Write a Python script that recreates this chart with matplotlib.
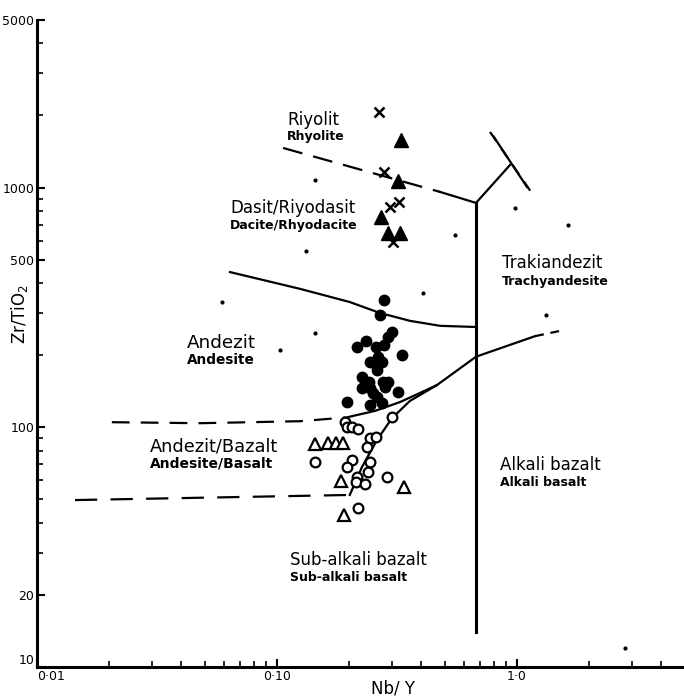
import matplotlib.pyplot as plt
from matplotlib.ticker import FixedLocator, LogLocator, NullFormatter

plt.rcParams['font.family'] = ['DejaVu Sans']

# Samples (Nb/Y, Zr/TiO2)
cross_x = [0.266, 0.279, 0.296, 0.322, 0.304]
cross_y = [2067, 1162, 830, 871, 593]

ftri_x = [0.329, 0.319, 0.271, 0.290, 0.326]
ftri_y = [1580, 1065, 754, 647, 647]

fcirc_x = [0.279, 0.268, 0.301, 0.290, 0.235, 0.215, 0.259, 0.279, 0.332,
           0.264, 0.244, 0.256, 0.274, 0.261, 0.226, 0.242, 0.277, 0.290,
           0.226, 0.244, 0.282, 0.251, 0.319, 0.261, 0.196, 0.244, 0.274]
fcirc_y = [340, 294, 250, 238, 229, 216, 216, 220, 200,
           197, 187, 185, 187, 173, 162, 155, 155, 155,
           146, 146, 147, 139, 140, 134, 128, 124, 126]

ocirc_x = [0.301, 0.192, 0.196, 0.205, 0.218, 0.244, 0.259, 0.237, 0.244,
           0.205, 0.196, 0.239, 0.215, 0.213, 0.233, 0.287, 0.144, 0.218]
ocirc_y = [110, 105, 100, 100, 98.4, 90.2, 91.1, 82.8, 71.6,
           73.1, 68.3, 65.1, 62.0, 59.1, 58.0, 62.0, 71.6, 46.1]

otri_x = [0.144, 0.163, 0.176, 0.188, 0.185, 0.338, 0.190]
otri_y = [85.2, 86.0, 86.0, 86.0, 59.7, 56.4, 43.1]

# small specks on the scanned sheet
speck_x = [0.132, 0.144, 0.144, 0.103, 0.406, 0.552, 0.981, 1.63, 1.32, 0.059, 2.82]
speck_y = [544, 1076, 247, 210, 363, 634, 822, 698, 294, 333, 12]

# field boundaries
rhy_dash_x = [0.106, 0.478]
rhy_dash_y = [1463, 959]
rhy_solid_x = [0.478, 0.675]
rhy_solid_y = [959, 863]

vert_x = [0.675, 0.675]
vert_y = [863, 14]

branch_x = [0.675, 0.935]
branch_y = [863, 1242]
cross_line_x = [0.772, 1.19]
cross_line_y = [1706, 905]
cross_solid_x = [0.80, 1.10]
cross_solid_y = [1630, 1006]

dac_and_x = [0.0637, 0.1247, 0.201, 0.268, 0.358, 0.478, 0.675]
dac_and_y = [444, 378, 333, 300, 278, 265, 262]

and_bas_dash_x = [0.0205, 0.0478, 0.1247, 0.196, 0.207]
and_bas_dash_y = [105, 104, 106, 110, 111.5]
and_bas_x = [0.207, 0.256, 0.326, 0.394, 0.464, 0.675, 1.19]
and_bas_y = [111.5, 117, 127.5, 139, 150, 197, 240]
and_bas_tail_x = [1.19, 1.585]
and_bas_tail_y = [240, 255]

steep_x = [0.201, 0.226, 0.261, 0.301, 0.358, 0.464]
steep_y = [52.2, 68.3, 88.5, 109, 128.8, 150]

low_dash_x = [0.0144, 0.201]
low_dash_y = [49.7, 52.2]

y_ticks = [10, 20, 100, 500, 1000, 5000]
y_labels = ['10', '20', '100', '500', '1000', '5000']
x_ticks = [0.01, 0.1, 1.0]
x_labels = ['0·01', '0·10', '1·0']

fig = plt.figure(figsize=(6.84, 6.99), dpi=100)
ax = fig.add_axes([37 / 684, 32 / 699, 647 / 684, 647 / 699])
ax.set_xscale('log')
ax.set_yscale('log')
ax.set_xlim(0.01, 10 ** (647 / 240 - 2))
ax.set_ylim(10, 5000)

lw = 1.6
ax.plot(rhy_dash_x, rhy_dash_y, color='black', lw=lw, dashes=(9, 5))
ax.plot(rhy_solid_x, rhy_solid_y, color='black', lw=lw)
ax.plot(vert_x, vert_y, color='black', lw=2.2)
ax.plot(branch_x, branch_y, color='black', lw=lw)
ax.plot(cross_line_x, cross_line_y, color='black', lw=lw, dashes=(5, 4))
ax.plot(cross_solid_x, cross_solid_y, color='black', lw=lw)
ax.plot(dac_and_x, dac_and_y, color='black', lw=lw)
ax.plot(and_bas_dash_x, and_bas_dash_y, color='black', lw=lw, dashes=(8, 5))
ax.plot(and_bas_x, and_bas_y, color='black', lw=lw)
ax.plot(and_bas_tail_x, and_bas_tail_y, color='black', lw=lw, dashes=(4, 3))
ax.plot(steep_x, steep_y, color='black', lw=lw)
ax.plot(low_dash_x, low_dash_y, color='black', lw=lw, dashes=(10, 6))

ax.plot(speck_x, speck_y, linestyle='None', marker='o', ms=2, color='black')
ax.plot(cross_x, cross_y, linestyle='None', marker='x', ms=7, mew=1.8, color='black')
ax.plot(ftri_x, ftri_y, linestyle='None', marker='^', ms=10, color='black')
ax.plot(fcirc_x, fcirc_y, linestyle='None', marker='o', ms=7.5, color='black')
ax.plot(ocirc_x, ocirc_y, linestyle='None', marker='o', ms=7, mfc='white', mec='black', mew=1.6)
ax.plot(otri_x, otri_y, linestyle='None', marker='^', ms=9, mfc='white', mec='black', mew=1.6)

# field names
big = 12
small = 9
ax.text(0.110, 1914, 'Riyolit', fontsize=big, va='center')
ax.text(0.110, 1626, 'Rhyolite', fontsize=small, fontweight='bold', va='center')
ax.text(0.0637, 822, 'Dasit/Riyodasit', fontsize=big, va='center')
ax.text(0.0637, 692, 'Dacite/Rhyodacite', fontsize=small, fontweight='bold', va='center')
ax.text(0.0422, 225, 'Andezit', fontsize=13.2, va='center')
ax.text(0.0422, 191, 'Andesite', fontsize=9.8, fontweight='bold', va='center')
ax.text(0.0296, 82.8, 'Andezit/Bazalt', fontsize=12.8, va='center')
ax.text(0.0296, 70.3, 'Andesite/Basalt', fontsize=10, fontweight='bold', va='center')
ax.text(0.866, 485, 'Trakiandezit', fontsize=big, va='center')
ax.text(0.866, 404, 'Trachyandesite', fontsize=small, fontweight='bold', va='center')
ax.text(0.849, 69.6, 'Alkali bazalt', fontsize=big, va='center')
ax.text(0.849, 59.1, 'Alkali basalt', fontsize=small, fontweight='bold', va='center')
ax.text(0.113, 27.9, 'Sub-alkali bazalt', fontsize=big, va='center')
ax.text(0.113, 23.7, 'Sub-alkali basalt', fontsize=small, fontweight='bold', va='center')

# axes styling
for side in ['top', 'right']:
    ax.spines[side].set_visible(False)
for side in ['left', 'bottom']:
    ax.spines[side].set_linewidth(2.2)

ax.yaxis.set_major_locator(FixedLocator(y_ticks))
ax.set_yticklabels(y_labels)
ax.yaxis.set_minor_locator(LogLocator(base=10, subs=range(2, 10)))
ax.yaxis.set_minor_formatter(NullFormatter())
ax.xaxis.set_major_locator(FixedLocator(x_ticks))
ax.set_xticklabels(x_labels)
ax.xaxis.set_minor_locator(LogLocator(base=10, subs=range(2, 10)))
ax.xaxis.set_minor_formatter(NullFormatter())
ax.tick_params(which='major', direction='in', length=6, width=1.5, labelsize=9, pad=2)
ax.tick_params(which='minor', direction='in', length=4, width=1.2)

# "10" sits just above the corner, "0·01" starts at the corner
ax.get_yticklabels()[0].set_verticalalignment('bottom')
ax.get_xticklabels()[0].set_horizontalalignment('left')

ax.set_xlabel('Nb/ Y', fontsize=12)
ax.xaxis.set_label_coords(0.55, -0.034)
ax.xaxis.label.set_verticalalignment('center')
ax.set_ylabel('Zr/TiO$_2$', fontsize=12)
ax.yaxis.set_label_coords(-0.027, 0.545)
ax.yaxis.label.set_verticalalignment('center')

fig.savefig('out.png', dpi=100)
